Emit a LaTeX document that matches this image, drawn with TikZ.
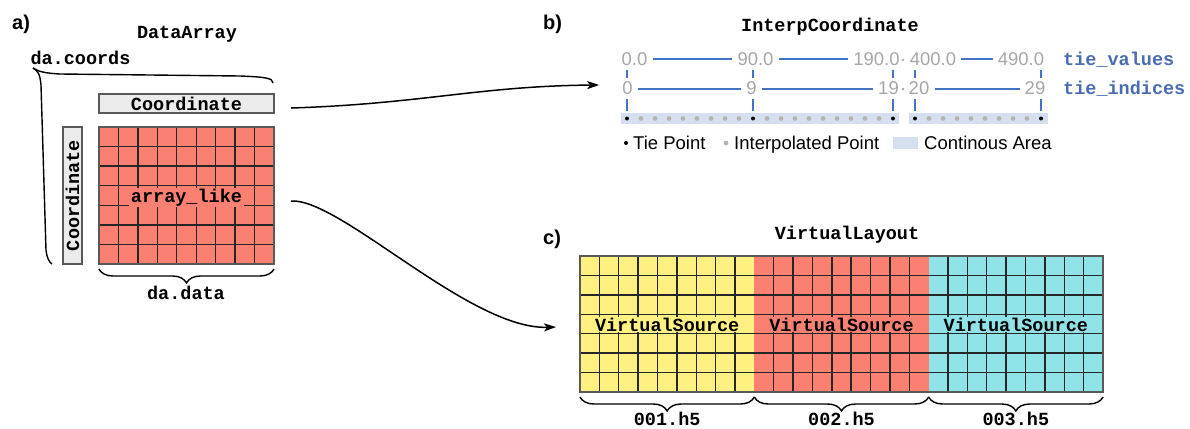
\documentclass[tikz,border=0pt]{standalone}
\usepackage{fontspec}
\setmainfont{Liberation Sans}
\setmonofont{Liberation Mono}
\usetikzlibrary{decorations.pathreplacing,arrows.meta,calc}
\definecolor{salmon}{RGB}{250,128,114}
\definecolor{vyellow}{RGB}{255,240,130}
\definecolor{vcyan}{RGB}{144,228,232}
\definecolor{boxgray}{RGB}{235,235,235}
\definecolor{blueline}{RGB}{68,114,196}
\definecolor{bluetext}{RGB}{74,108,176}
\definecolor{band}{RGB}{213,223,240}
\definecolor{numgray}{RGB}{166,166,166}
\definecolor{dotgray}{RGB}{180,180,180}
\begin{document}
\begin{tikzpicture}[x=1pt,y=-1pt,
  mono/.style={font=\fontsize{18.5}{20}\selectfont\ttfamily\bfseries, inner sep=0pt},
  sans/.style={font=\fontsize{18.5}{20}\selectfont, inner sep=0pt},
  lbl/.style={font=\fontsize{20}{22}\selectfont\bfseries, inner sep=0pt, anchor=base west},
  gl/.style={line width=1.4pt, draw=black!85},
  cell/.style={draw=black!65, line width=1.4pt, inner sep=0pt, outer sep=0pt},
  blk/.style={inner sep=0pt, outer sep=0pt, minimum width=174.33pt, minimum height=136pt},
  brc/.style={decorate, decoration={brace, amplitude=14pt}, line width=1.4pt},
  conn/.style={line width=1.5pt, -{Stealth[length=12pt,width=8pt,inset=3pt]}},
  num/.style={sans, text=numgray, inner xsep=5pt, inner ysep=0pt},
  numline/.style={draw=blueline, line width=2pt},
  tickline/.style={draw=blueline, line width=2.4pt},
  tdot/.style={circle, fill=black, inner sep=0pt, minimum size=4pt},
  idot/.style={circle, fill=dotgray, inner sep=0pt, minimum size=4.8pt},
]
\useasboundingbox (0,0) rectangle (1190,428);

% ---------------- panel a ----------------
\node[lbl] (la) at (12,30) {a)};
\node[mono, anchor=base] (tda) at (187,38) {DataArray};
\node[mono, anchor=base] (tcoords) at (80.5,64) {da.coords};
\node[cell, fill=boxgray, minimum width=175pt, minimum height=19pt, mono] (coordh) at (186.5,103.5) {Coordinate};
\node[cell, fill=boxgray, minimum width=137pt, minimum height=19pt, rotate=90, mono] (coordv) at (72.5,195.5) {Coordinate};

\node[fill=salmon, inner sep=0pt, outer sep=0pt, minimum width=175pt, minimum height=137pt] (arr) at (186.5,195.5) {};
\foreach \i in {1,...,8} \draw[gl] ($(arr.north west)+({\i*175/9},0)$) -- ($(arr.south west)+({\i*175/9},0)$);
\foreach \j in {1,...,6} \draw[gl] ($(arr.north west)+(0,{\j*137/7})$) -- ($(arr.north east)+(0,{\j*137/7})$);
\draw[cell] (arr.north west) rectangle (arr.south east);
\node[mono, fill=salmon, inner xsep=2pt, inner ysep=1pt, anchor=base] (al) at (186.5,202) {array\_like};

\draw[brc] ($(arr.south east)+(0,5)$) -- ($(arr.south west)+(0,5)$);
\node[mono, anchor=base] (tdata) at (186,299) {da.data};

\draw[line width=1.4pt] (33,68) .. controls (38,71) and (42,73) .. (60,74) -- (240,76) .. controls (265,77) and (273,78) .. (273,83);
\draw[line width=1.4pt] (33,68) .. controls (38,71) and (40,74) .. (41,85) -- (46,250) .. controls (47,258) and (49,262) .. (52,264);

% ---------------- panel b ----------------
\node[lbl] (lb) at (543,30) {b)};
\node[mono, anchor=base] (tinterp) at (830,32) {InterpCoordinate};

\node[num] (n0) at (634.5,59.5) {0.0};
\node[num] (n90) at (755.5,59.5) {90.0};
\node[num] (n190) at (876.5,59.5) {190.0};
\node[num] (n400) at (933,59.5) {400.0};
\node[num] (n490) at (1021,59.5) {490.0};
\draw[numline] (n0.east) -- (n90.west);
\draw[numline] (n90.east) -- (n190.west);
\draw[numline] (n400.east) -- (n490.west);
\node[circle, fill=numgray, inner sep=0pt, minimum size=2.6pt] (sep1) at (903,60) {};

\node[num] (i0) at (627.5,88.5) {0};
\node[num] (i9) at (751.5,88.5) {9};
\node[num] (i19) at (888.5,88.5) {19};
\node[num] (i20) at (919,88.5) {20};
\node[num] (i29) at (1035,88.5) {29};
\draw[numline] (i0.east) -- (i9.west);
\draw[numline] (i9.east) -- (i19.west);
\draw[numline] (i20.east) -- (i29.west);
\node[circle, fill=numgray, inner sep=0pt, minimum size=2.6pt] (sep2) at (903,89) {};

\node[mono, text=bluetext, anchor=base west] (tv) at (1063,66) {tie\_values};
\node[mono, text=bluetext, anchor=base west] (ti) at (1063,94) {tie\_indices};

\foreach \x in {627,753,893,915,1041} {
  \draw[tickline] (\x,70) -- (\x,78);
  \draw[tickline] (\x,99) -- (\x,111);
}
\fill[band] (621,113) rectangle (899,124);
\fill[band] (909,113) rectangle (1048,124);
\foreach \k in {1,...,8} \node[idot] at ({627+14*\k},118.5) {};
\foreach \k in {1,...,9} \node[idot] at ({753+14*\k},118.5) {};
\foreach \k in {1,...,8} \node[idot] at ({915+14*\k},118.5) {};
\foreach \x in {627,753,893,915,1041} \node[tdot] at (\x,118.5) {};

\node[tdot] (ltd) at (626,143) {};
\node[sans, anchor=base west] (ltt) at (633,149) {Tie Point};
\node[idot] (lid) at (726,143) {};
\node[sans, anchor=base west] (lit) at (734,149) {Interpolated Point};
\fill[band] (893,137) rectangle (918,148.5);
\node[sans, anchor=base west] (lct) at (924,149) {Continous Area};

% ---------------- panel c ----------------
\node[lbl] (lc) at (543,244) {c)};
\node[mono, anchor=base] (tvl) at (847,239) {VirtualLayout};

\node[blk, fill=vyellow] (vs1) at (667.17,324) {};
\node[blk, fill=salmon] (vs2) at (841.5,324) {};
\node[blk, fill=vcyan] (vs3) at (1015.83,324) {};
\foreach \b in {vs1,vs2,vs3} {
  \foreach \i in {1,...,8} \draw[gl] ($(\b.north west)+({\i*174.33/9},0)$) -- ($(\b.south west)+({\i*174.33/9},0)$);
  \foreach \j in {1,...,6} \draw[gl] ($(\b.north west)+(0,{\j*136/7})$) -- ($(\b.north east)+(0,{\j*136/7})$);
}
\draw[cell] (vs1.north west) rectangle (vs3.south east);
\node[mono, fill=vyellow, inner xsep=2pt, inner ysep=1pt, anchor=base] (s1) at (667.17,331) {VirtualSource};
\node[mono, fill=salmon, inner xsep=2pt, inner ysep=1pt, anchor=base] (s2) at (841.5,331) {VirtualSource};
\node[mono, fill=vcyan, inner xsep=2pt, inner ysep=1pt, anchor=base] (s3) at (1015.83,331) {VirtualSource};

\foreach \b/\t in {vs1/001.h5,vs2/002.h5,vs3/003.h5} {
  \draw[brc] ($(\b.south east)+(0,5)$) -- ($(\b.south west)+(0,5)$);
  \node[mono, anchor=base] at ($(\b.south)+(0,33)$) {\t};
}

% ---------------- connectors ----------------
\coordinate (a1s) at ($(coordh.east)+(17,4.5)$);
\coordinate (a1e) at ($(i0.west)+(-18,-3.5)$);
\draw[conn] (a1s) .. controls (420,104) and (480,86) .. (a1e);
\coordinate (a2s) at ($(arr.east)+(17,5.5)$);
\coordinate (a2e) at ($(vs1.west)+(-24,3)$);
\draw[conn] (a2s) .. controls (340,198) and (470,330) .. (a2e);
\end{tikzpicture}
\end{document}
